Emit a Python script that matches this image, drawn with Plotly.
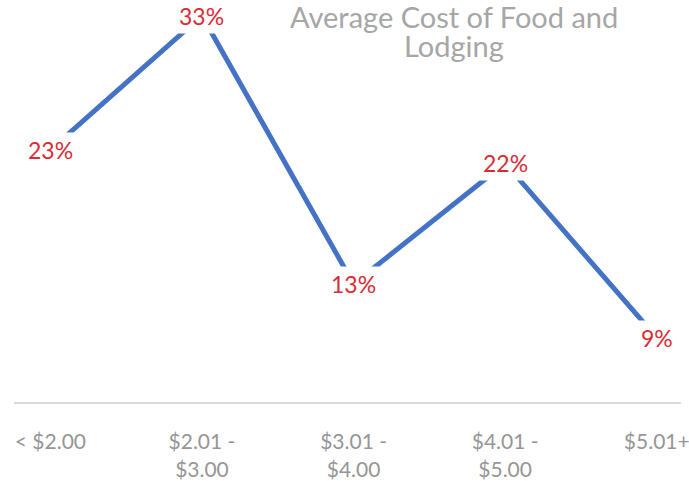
import plotly.graph_objects as go

# Share of respondents by average daily cost of food and lodging
categories = ["< $2.00", "$2.01 -<br>$3.00", "$3.01 -<br>$4.00", "$4.01 -<br>$5.00", "$5.01+"]
shares = [23, 33, 13, 22, 9]
labels = [f"{v}%" for v in shares]
title_lines = ["Average Cost of Food and", "Lodging"]

FONT = "Lato"
LINE_BLUE = "#4472C4"
LABEL_RED = "#D92B34"
TICK_GRAY = "#969696"
TITLE_GRAY = "#A6A6A6"

PLOT_TOP, PLOT_BOTTOM = 5, 406  # pixel rows of the plotting area


def paper_y(px):
    return (PLOT_BOTTOM - px) / (PLOT_BOTTOM - PLOT_TOP)


fig = go.Figure()
fig.add_trace(go.Scatter(
    x=categories,
    y=shares,
    mode="lines",
    line=dict(color=LINE_BLUE, width=5),
    hoverinfo="skip",
    showlegend=False,
))

# Value labels sit on the points with a white box that interrupts the line
for cat, val, txt in zip(categories, shares, labels):
    fig.add_annotation(
        x=cat, y=val, xref="x", yref="y",
        text=txt, showarrow=False,
        font=dict(family=FONT, size=23, color=LABEL_RED),
        bgcolor="white", borderpad=3,
        xanchor="center", yanchor="middle",
    )

# Two-line chart title, set with tight line spacing
for i, line in enumerate(title_lines):
    fig.add_annotation(
        x=455 / 689, y=paper_y(17 + 29 * i), xref="paper", yref="paper",
        text=line, showarrow=False,
        font=dict(family=FONT, size=29, color=TITLE_GRAY),
        xanchor="center", yanchor="middle",
    )

fig.update_layout(
    width=689, height=481,
    margin=dict(l=14, r=0, t=PLOT_TOP, b=481 - PLOT_BOTTOM),
    paper_bgcolor="white", plot_bgcolor="white",
    font=dict(family=FONT),
    xaxis=dict(
        type="category",
        range=[-0.24, 4.16],
        showgrid=False, zeroline=False,
        showline=True, linecolor="#D9D9D9", linewidth=2,
        ticks="outside", ticklen=20, tickcolor="rgba(0,0,0,0)",
        tickfont=dict(family=FONT, size=21, color=TICK_GRAY),
        tickangle=0,
    ),
    yaxis=dict(
        range=[4.2, 33.8],
        visible=False, showgrid=False, zeroline=False,
    ),
)

fig.write_html("out.html")
